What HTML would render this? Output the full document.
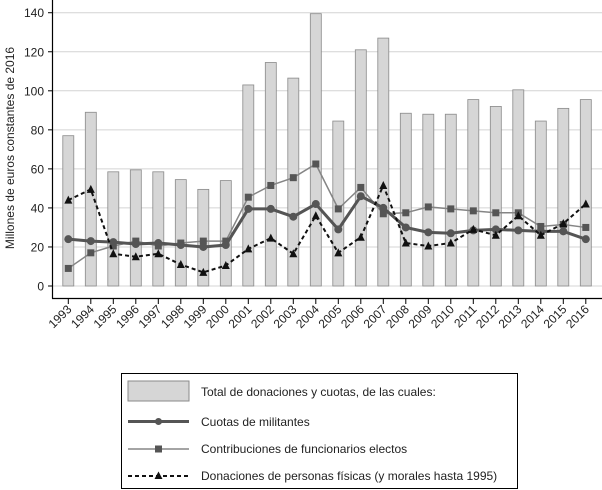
<!DOCTYPE html>
<html><head><meta charset="utf-8"><style>
body{margin:0;background:#fff;}
svg{display:block;font-family:"Liberation Sans",sans-serif;}
</style></head><body>
<svg id="c" width="602" height="490" xmlns="http://www.w3.org/2000/svg"></svg>
<script>
var bars=[77,89,58.5,59.5,58.5,54.5,49.5,54,103,114.5,106.5,139.5,84.5,121,127,88.5,88,88,95.5,92,100.5,84.5,91,95.5];
var cuo=[24,23,22.5,21.5,22,21,20,21,39.5,39.5,35.5,42,29,46,40,30,27.5,27,28.5,29,28.5,28,28,24];
var con=[9,17,20.5,23,20.5,22,23,23,45.5,51.5,55.5,62.5,39.5,50.5,37,37.5,40.5,39.5,38.5,37.5,37.5,30.5,31.5,30];
var don=[44,49.5,16.5,15,16.5,11,7,10.5,19,24.5,16.5,36,17,25,51.5,22,20.5,22,29,26,36,26,32,42];
function X(i){return 68.3+i*22.5;}
function Y(v){return 286-v*1.952;}
var s='';
for(var v=0;v<=140;v+=20){var y=Y(v);s+='<line x1="53" x2="602" y1="'+y+'" y2="'+y+'" stroke="#d4d4d4" stroke-width="1"/>';
s+='<line x1="48" x2="53" y1="'+y+'" y2="'+y+'" stroke="#000"/>';
s+='<text x="44" y="'+(y+4.5)+'" font-size="12" text-anchor="end" fill="#222">'+v+'</text>';}
s+='<line x1="52.5" x2="52.5" y1="0" y2="298.5" stroke="#000" stroke-width="1.2"/>';
s+='<line x1="52" x2="602" y1="298.5" y2="298.5" stroke="#000" stroke-width="1.2"/>';
for(var i=0;i<24;i++){var x=X(i);
s+='<rect x="'+(x-5.5)+'" y="'+Y(bars[i])+'" width="11" height="'+(286-Y(bars[i]))+'" fill="#d6d6d6" stroke="#8a8a8a" stroke-width="0.8"/>';
s+='<line x1="'+x+'" x2="'+x+'" y1="298.5" y2="304" stroke="#000"/>';
s+='<text transform="translate('+(x+4)+',310) rotate(-45)" font-size="12" text-anchor="end" fill="#222">'+(1993+i)+'</text>';}
function pts(a){return a.map(function(v,i){return X(i)+','+Y(v)}).join(' ');}
s+='<polyline points="'+pts(con)+'" fill="none" stroke="#858585" stroke-width="1.5"/>';
con.forEach(function(v,i){s+='<rect x="'+(X(i)-3.5)+'" y="'+(Y(v)-3.5)+'" width="7" height="7" fill="#555"/>';});
s+='<polyline points="'+pts(cuo)+'" fill="none" stroke="#555" stroke-width="3"/>';
cuo.forEach(function(v,i){s+='<circle cx="'+X(i)+'" cy="'+Y(v)+'" r="4" fill="#555"/>';});
s+='<polyline points="'+pts(don)+'" fill="none" stroke="#111" stroke-width="2" stroke-dasharray="4,3"/>';
don.forEach(function(v,i){var x=X(i),y=Y(v);s+='<polygon points="'+(x-4)+','+(y+3.5)+' '+(x+4)+','+(y+3.5)+' '+x+','+(y-4.5)+'" fill="#111"/>';});
s+='<text transform="translate(14,148) rotate(-90)" font-size="12" text-anchor="middle" fill="#222">Millones de euros constantes de 2016</text>';
s+='<rect x="121.5" y="373.5" width="396" height="115" fill="#fff" stroke="#000" stroke-width="1"/>';
s+='<rect x="128" y="381" width="61" height="20" fill="#d6d6d6" stroke="#8a8a8a"/>';
s+='<text x="201" y="396" font-size="12" fill="#222">Total de donaciones y cuotas, de las cuales:</text>';
s+='<line x1="128" x2="189" y1="421.5" y2="421.5" stroke="#555" stroke-width="3"/><circle cx="158.5" cy="421.5" r="3.5" fill="#555"/>';
s+='<text x="201" y="426" font-size="12" fill="#222">Cuotas de militantes</text>';
s+='<line x1="128" x2="189" y1="449" y2="449" stroke="#858585" stroke-width="1.5"/><rect x="155" y="445.5" width="7" height="7" fill="#555"/>';
s+='<text x="201" y="453" font-size="12" fill="#222">Contribuciones de funcionarios electos</text>';
s+='<line x1="128" x2="189" y1="476" y2="476" stroke="#111" stroke-width="2" stroke-dasharray="4,3"/><polygon points="154.5,479 162.5,479 158.5,471.5" fill="#111"/>';
s+='<text x="201" y="480" font-size="12" fill="#222">Donaciones de personas físicas (y morales hasta 1995)</text>';
document.getElementById('c').innerHTML=s;
</script>
</body></html>
